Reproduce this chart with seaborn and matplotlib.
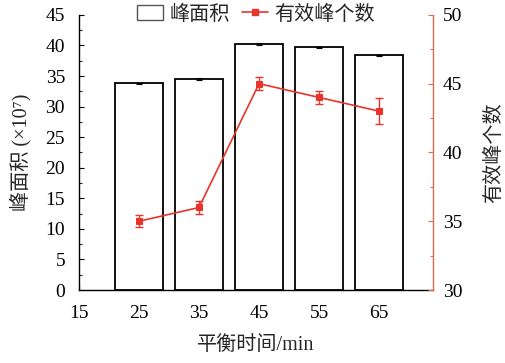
import numpy as np
import pandas as pd
import matplotlib
matplotlib.use("Agg")
import matplotlib.pyplot as plt
from matplotlib.patches import Patch
from matplotlib.lines import Line2D
from matplotlib.ticker import MultipleLocator
import seaborn as sns

# data
time_min = [25, 35, 45, 55, 65]
peak_area = [33.8, 34.5, 40.2, 39.7, 38.4]
peak_area_err = [0.1, 0.1, 0.15, 0.1, 0.1]
peak_count = [35.0, 36.0, 45.0, 44.0, 43.0]
peak_count_err = [0.45, 0.45, 0.45, 0.45, 0.95]

sns.set_style("ticks")
plt.rcParams['font.family'] = ['Liberation Serif', 'Noto Sans CJK SC']
plt.rcParams['axes.unicode_minus'] = False

red = "#e8342a"
spine_red = "#e2694f"
fs_tick = 14
fs_lab = 14.5

df = pd.DataFrame({"time": time_min, "area": peak_area, "count": peak_count})

fig = plt.figure(figsize=(5.06, 3.63), dpi=100)
ax = fig.add_axes([0.156, 0.201, 0.7, 0.758])

# bars of peak area
sns.barplot(data=df, x="time", y="area", native_scale=True, width=0.8,
            color="white", edgecolor="black", linewidth=1.3, errorbar=None, ax=ax)
ax.errorbar(time_min, peak_area, yerr=peak_area_err, fmt="none",
            ecolor="black", elinewidth=0.8, capsize=2.5, capthick=0.8)

ax.set_xlim(15, 74)
ax.set_ylim(0, 45)
ax.set_xticks([15, 25, 35, 45, 55, 65])
ax.yaxis.set_major_locator(MultipleLocator(5))
ax.yaxis.set_minor_locator(MultipleLocator(2.5))
ax.tick_params(axis="both", direction="in", labelsize=fs_tick, length=3.5, width=0.8, colors="black")
ax.tick_params(axis="y", which="minor", direction="in", length=2, width=0.8)
ax.tick_params(axis="x", pad=11)
ax.tick_params(axis="y", pad=10)
ax.set_xlabel("平衡时间/min", fontsize=fs_lab, labelpad=10)
ax.set_ylabel("峰面积 (×10⁷)", fontsize=fs_lab, labelpad=10)
for s in ["left", "bottom"]:
    ax.spines[s].set_linewidth(1.0)
    ax.spines[s].set_color("black")
ax.spines["top"].set_visible(False)
ax.spines["right"].set_visible(False)

# line of effective peak count
ax2 = ax.twinx()
sns.lineplot(data=df, x="time", y="count", color=red, marker="s", markersize=4.5,
             markeredgecolor=red, linewidth=1.2, ax=ax2)
ax2.errorbar(time_min, peak_count, yerr=peak_count_err, fmt="none",
             ecolor=red, elinewidth=1.0, capsize=3, capthick=1.0)
ax2.set_ylim(30, 50)
ax2.yaxis.set_major_locator(MultipleLocator(5))
ax2.yaxis.set_minor_locator(MultipleLocator(2.5))
ax2.tick_params(axis="y", direction="in", labelsize=fs_tick, length=3.5, width=0.8,
                color=spine_red, labelcolor="black", pad=7)
ax2.tick_params(axis="y", which="minor", direction="in", length=2, width=0.8, color=spine_red)
ax2.set_ylabel("有效峰个数", fontsize=fs_lab, labelpad=16)
ax2.set_xlabel("")
ax2.spines["right"].set_color(spine_red)
ax2.spines["right"].set_linewidth(1.0)
for s in ["top", "left", "bottom"]:
    ax2.spines[s].set_visible(False)

handles = [Patch(facecolor="white", edgecolor="#555555", linewidth=1.0, label="峰面积"),
           Line2D([0], [0], color=red, marker="s", markersize=4, linewidth=1.2, label="有效峰个数")]
ax.legend(handles=handles, loc="center", bbox_to_anchor=(0.5, 1.0), ncol=2, frameon=False,
          fontsize=fs_lab, handlelength=1.3, handletextpad=0.3, columnspacing=0.6,
          handleheight=0.8, borderpad=0)

fig.savefig("out.png", dpi=100)
